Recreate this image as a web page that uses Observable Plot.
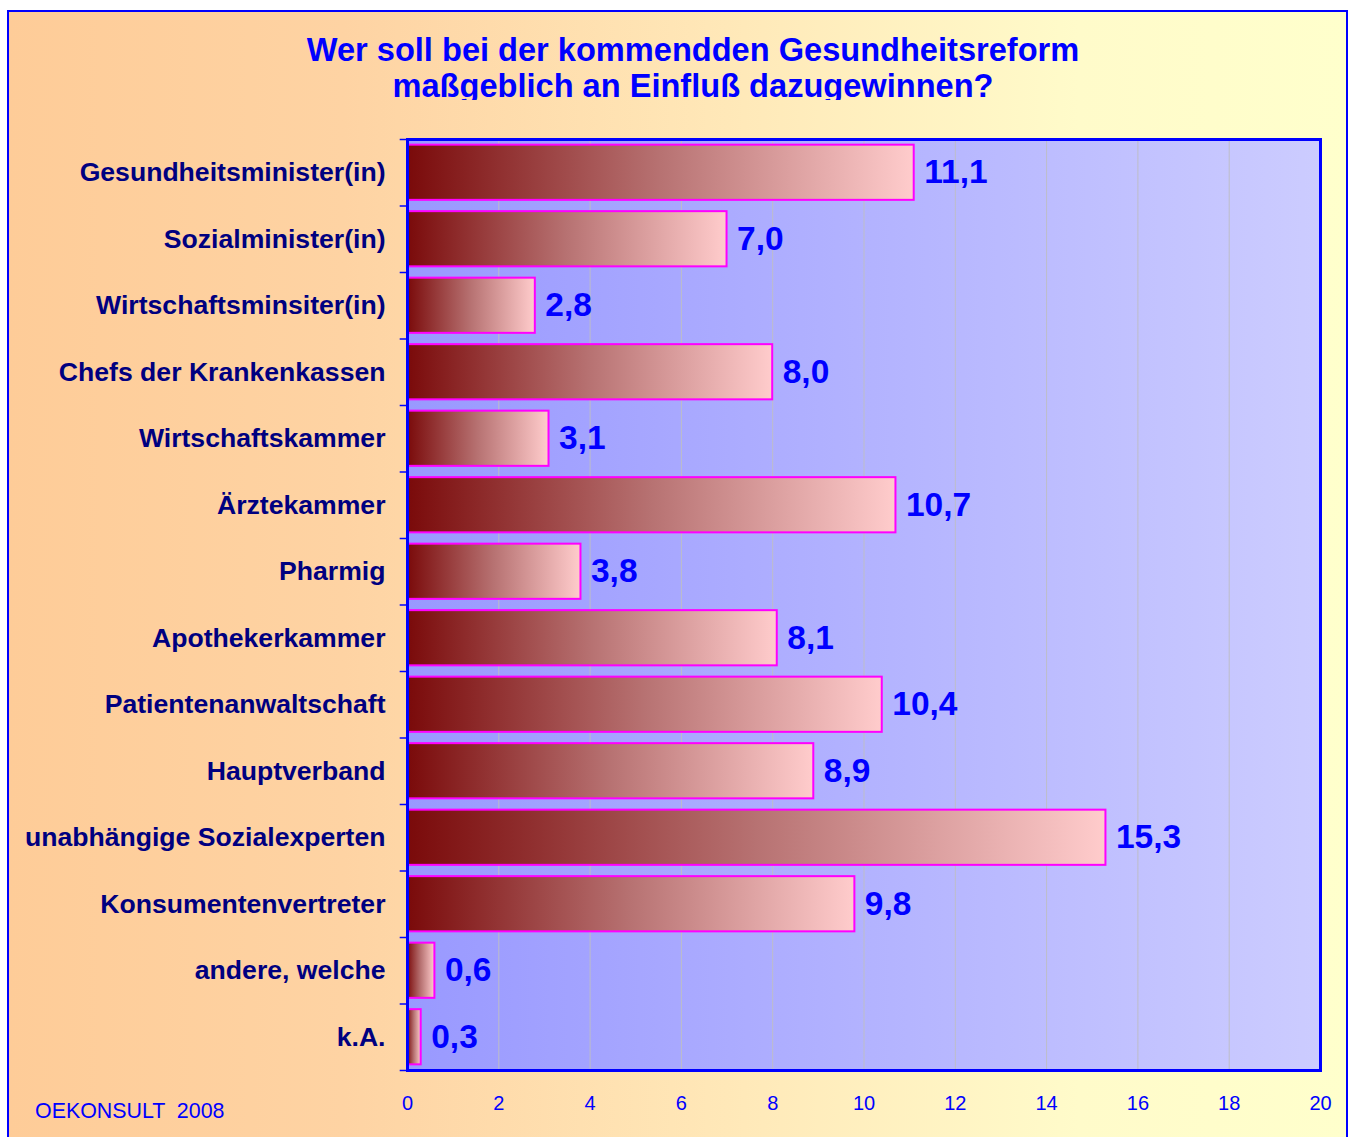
<!DOCTYPE html>
<html>
<head>
<meta charset="utf-8">
<script src="https://cdn.jsdelivr.net/npm/d3@7"></script>
<script src="https://cdn.jsdelivr.net/npm/@observablehq/plot@0.6"></script>
<style>
  html, body { margin: 0; padding: 0; background: #ffffff; }
  #page { position: relative; width: 1352px; height: 1137px; overflow: hidden; font-family: "Liberation Sans", Arial, sans-serif; }
  #frame { position: absolute; left: 7px; top: 10px; width: 1337px; height: 1140px; border: 2px solid #0000FF;
    background: linear-gradient(to right, #FECC98 0%, #FED3A3 25%, #FFE9B9 55%, #FFFBCA 80%, #FFFFCC 100%); }
  #titleClip { position: absolute; left: 0; top: 0; width: 1352px; height: 100px; overflow: hidden; }
  #title { position: absolute; left: 0; top: 32px; width: 1386px; text-align: center; color: #0000FF;
    font-weight: bold; font-size: 32.6px; line-height: 36px; }
  #footer { position: absolute; left: 35px; top: 1099px; color: #0000FF; font-size: 21.4px; white-space: pre; }
  #chart { position: absolute; left: 0; top: 0; }
</style>
</head>
<body>
<div id="page">
  <div id="frame"></div>
  <div id="titleClip"><div id="title">Wer soll bei der kommendden Gesundheitsreform<br>maßgeblich an Einfluß dazugewinnen?</div></div>
  <div id="chart"></div>
  <div id="footer">OEKONSULT  2008</div>
</div>
<script>
const categories = ["Gesundheitsminister(in)", "Sozialminister(in)", "Wirtschaftsminsiter(in)", "Chefs der Krankenkassen", "Wirtschaftskammer", "Ärztekammer", "Pharmig", "Apothekerkammer", "Patientenanwaltschaft", "Hauptverband", "unabhängige Sozialexperten", "Konsumentenvertreter", "andere, welche", "k.A."];
const values = [11.1, 7.0, 2.8, 8.0, 3.1, 10.7, 3.8, 8.1, 10.4, 8.9, 15.3, 9.8, 0.6, 0.3];
const xTicks = [0, 2, 4, 6, 8, 10, 12, 14, 16, 18, 20];

const data = categories.map((c, i) => ({cat: c, value: values[i]}));
const fmt = v => v.toFixed(1).replace(".", ",");

const W = 1352, H = 1137;
const mT = 139, mB = 67;
const step = (H - mT - mB) / categories.length;

const defs = () => {
  const d = d3.create("svg:defs");
  const g1 = d.append("linearGradient").attr("id", "barGrad").attr("x1", "0").attr("x2", "1").attr("y1", "0").attr("y2", "0");
  g1.append("stop").attr("offset", "0%").attr("stop-color", "#7A0A0A");
  g1.append("stop").attr("offset", "50%").attr("stop-color", "#B77272");
  g1.append("stop").attr("offset", "100%").attr("stop-color", "#FFCCCC");
  const g2 = d.append("linearGradient").attr("id", "plotBg").attr("x1", "0").attr("x2", "1").attr("y1", "0").attr("y2", "0");
  g2.append("stop").attr("offset", "0%").attr("stop-color", "#9999FF");
  g2.append("stop").attr("offset", "100%").attr("stop-color", "#CCCCFF");
  return d.node();
};

const chart = Plot.plot({
  width: W,
  height: H,
  marginLeft: 407,
  marginRight: 32,
  marginTop: mT,
  marginBottom: mB,
  style: {background: "transparent", fontFamily: "'Liberation Sans', Arial, sans-serif", overflow: "visible"},
  x: {domain: [0, 20], ticks: xTicks},
  y: {domain: categories, paddingInner: 0.17, paddingOuter: 0.085, round: false},
  marks: [
    defs,
    Plot.frame({fill: "url(#plotBg)", stroke: "none"}),
    Plot.gridX(xTicks, {stroke: "#BDBDC8", strokeOpacity: 1, strokeWidth: 1}),
    Plot.barX(data, {x: "value", y: "cat", fill: "url(#barGrad)", stroke: "#FF00FF", strokeWidth: 2}),
    Plot.text(data, {x: "value", y: "cat", text: d => fmt(d.value), textAnchor: "start", dx: 10, fill: "#0000FF", fontSize: 33.5, fontWeight: "bold"}),
    Plot.ruleY(categories, {y: d => d, x1: -0.16, x2: 0, dy: -step / 2, stroke: "#0000FF", strokeWidth: 1.5}),
    Plot.ruleY(categories.slice(-1), {y: d => d, x1: -0.16, x2: 0, dy: step / 2, stroke: "#0000FF", strokeWidth: 1.5}),
    Plot.axisY({tickSize: 0, tickPadding: 22, fontSize: 26.6, fontWeight: "bold", fill: "#000080", label: null}),
    Plot.axisX(xTicks, {tickSize: 0, tickPadding: 25, fontSize: 20, fill: "#0000FF", label: null}),
    Plot.frame({stroke: "#0000FF", strokeWidth: 3})
  ]
});
document.getElementById("chart").appendChild(chart);
</script>
</body>
</html>
